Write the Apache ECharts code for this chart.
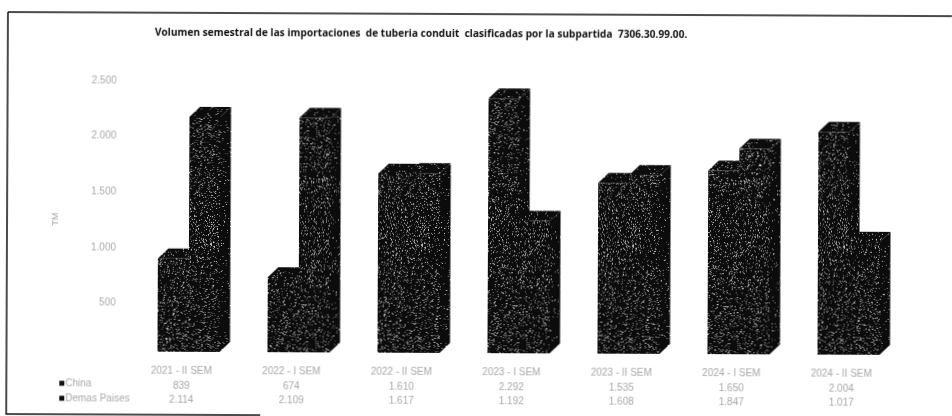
<!DOCTYPE html>
<html><head><meta charset="utf-8">
<style>html,body{margin:0;padding:0;background:#fff;overflow:hidden}
#c{width:952px;height:416px;transform:rotate(0.25deg);transform-origin:0 0}</style>
<script src="https://cdn.jsdelivr.net/npm/echarts@6/dist/echarts.min.js"></script>
</head><body><div id="c"></div>
<script>
const categories = ['2021 - II SEM','2022 - I SEM','2022 - II SEM','2023 - I SEM','2023 - II SEM','2024 - I SEM','2024 - II SEM'];
const china = [839,674,1610,2292,1535,1650,2004];
const demas = [2114,2109,1617,1192,1608,1847,1017];
const yTicks = [0,500,1000,1500,2000,2500];
const titleText = 'Volumen semestral de las importaciones  de tuberia conduit  clasificadas por la subpartida  7306.30.99.00.';

function fmt(v){return String(v).replace(/\B(?=(\d{3})+$)/g,'.');}

// scanned-print grain used as the fill texture of the bars
function grain(density, seed){
  const n=211, cv=document.createElement('canvas'); cv.width=cv.height=n;
  const g=cv.getContext('2d'); g.fillStyle='#0c0c0c'; g.fillRect(0,0,n,n);
  let s=seed>>>0;
  const next=()=>{s^=s<<13;s>>>=0;s^=s>>>17;s^=s<<5;s>>>=0;return s;};
  for(let y=0;y<n;y++)for(let x=0;x<n;x++){
    if(next()%1000<density){
      const t=next()%5; g.fillStyle=t==0?'#c8c8c8':t<3?'#8c8c8c':'#5a5a5a';
      g.fillRect(x,y,1,1);
    }
  }
  return {image:cv,repeat:'repeat'};
}
const texFront=grain(160,2463534242), texSide=grain(55,88172645), texTop=grain(80,521288629);

const BAR_W=31, DX=10.5, DY=10, BASE_LIFT=7;
function bar3d(side){
  return function(params,api){
    const i=api.value(0), top=api.coord([i,api.value(1)]), base=api.coord([i,0]);
    const l=top[0]+7+(side<0?-BAR_W:0), r=l+BAR_W, t=top[1]-BASE_LIFT, b=base[1]-BASE_LIFT;
    return {type:'group',children:[
      {type:'polygon',shape:{points:[[r,b],[r+DX,b-DY],[r+DX,t-DY],[r,t]]},style:{fill:texSide}},
      {type:'polygon',shape:{points:[[l,t],[l+DX,t-DY],[r+DX,t-DY],[r,t]]},style:{fill:texTop}},
      {type:'rect',shape:{x:l,y:t,width:BAR_W,height:b-t},style:{fill:texFront}}
    ]};
  };
}
const tc='#a8a8a8', ff='"Liberation Sans",Arial,sans-serif';
const chart=echarts.init(document.getElementById('c'),null,{renderer:'canvas'});
chart.setOption({
  animation:false,
  backgroundColor:'#fff',
  title:{text:titleText,left:150,top:22,textStyle:{fontFamily:'"Open Sans",sans-serif',fontWeight:'bold',fontSize:10.15,color:'#111'}},
  grid:{left:128,right:54,top:80,bottom:58},
  legend:{orient:'vertical',left:56,top:373,icon:'rect',itemWidth:5,itemHeight:5,itemGap:5,
    textStyle:{color:tc,fontSize:10,fontFamily:ff,padding:[0,0,0,-4]},
    data:[{name:'China',itemStyle:{color:'#111'}},{name:'Demas Paises',itemStyle:{color:'#111'}}]},
  xAxis:{type:'category',data:categories,axisLine:{show:false},axisTick:{show:false},
    axisLabel:{interval:0,margin:5,fontFamily:ff,color:tc,fontSize:10,lineHeight:14.5,
      formatter:(v,i)=>v+'\n'+fmt(china[i])+'\n'+fmt(demas[i])}},
  yAxis:{type:'value',min:yTicks[0],max:yTicks[yTicks.length-1],interval:500,
    name:'TM',nameLocation:'middle',nameGap:67,nameRotate:90,nameTextStyle:{color:tc,fontSize:9,fontFamily:ff},
    axisLine:{show:false},axisTick:{show:false},splitLine:{show:false},
    axisLabel:{margin:11,color:tc,fontSize:10,fontFamily:ff,formatter:v=>v===0?'':fmt(v)}},
  series:[
    {name:'China',type:'custom',renderItem:bar3d(-1),encode:{x:0,y:1},itemStyle:{color:'#111'},data:china.map((v,i)=>[i,v])},
    {name:'Demas Paises',type:'custom',renderItem:bar3d(1),encode:{x:0,y:1},itemStyle:{color:'#111'},data:demas.map((v,i)=>[i,v])}
  ],
  graphic:[
    {type:'polyline',silent:true,shape:{points:[[8,12],[960,12]]},style:{stroke:'#111',lineWidth:1.5,fill:'none'}},
    {type:'polyline',silent:true,shape:{points:[[8,12],[8,414],[262,414]]},style:{stroke:'#111',lineWidth:1.5,fill:'none'}}
  ]
});
</script></body></html>
